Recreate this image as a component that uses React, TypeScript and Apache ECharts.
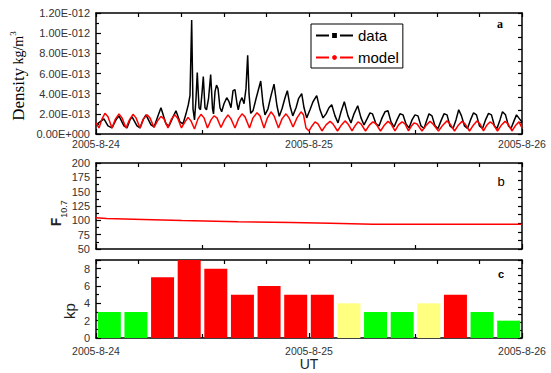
import React, { useEffect, useRef } from "react";
import * as echarts from "echarts";

// ---- Data (hours since 2005-8-24 00:00 UT) ----
const dayLabels = ["2005-8-24", "2005-8-25", "2005-8-26"];

// Measured density (units of 1e-13 kg/m^3)
const densityHours = [
  0, 0.45, 0.9, 1.35, 1.8, 2.25, 2.59, 3.15, 3.49, 3.83, 4.06, 4.62, 4.96, 5.3, 5.63, 6.2, 6.54, 6.99, 7.32, 7.89,
  8.23, 8.68, 9.01, 9.46, 9.8, 10.14, 10.4, 10.59, 10.78, 10.93, 11.1, 11.27, 11.41, 11.61, 11.77, 11.94, 12.09,
  12.28, 12.45, 12.68, 12.92, 13.13, 13.24, 13.41, 13.58, 13.75, 13.97, 14.16, 14.42, 14.73, 14.99, 15.21, 15.44,
  15.66, 15.89, 16.03, 16.23, 16.45, 16.68, 16.9, 17.09, 17.24, 17.43, 17.69, 18.03, 18.56, 18.82, 19.04, 19.38,
  19.72, 20.06, 20.39, 20.65, 20.96, 21.3, 21.56, 21.86, 22.17, 22.54, 22.82, 23.18, 23.44, 23.74, 24.11, 24.45,
  24.87, 25.24, 25.58, 25.92, 26.25, 26.56, 26.93, 27.27, 27.61, 27.98, 28.39, 28.73, 29.07, 29.49, 29.86, 30.2,
  30.54, 30.87, 31.15, 31.55, 31.89, 32.23, 32.56, 32.9, 33.24, 33.58, 33.92, 34.25, 34.59, 34.93, 35.27, 35.61,
  35.94, 36.28, 36.62, 36.96, 37.24, 37.52, 37.86, 38.2, 38.54, 38.87, 39.21, 39.55, 39.89, 40.23, 40.56, 40.87,
  41.18, 41.52, 41.86, 42.2, 42.54, 42.87, 43.21, 43.55, 43.89, 44.23, 44.56, 44.9, 45.18, 45.52, 45.8, 46.14,
  46.48, 46.76, 47.1, 47.38, 47.72, 48,
];
const densityValues = [
  0.9, 1.2, 1.5, 0.8, 0.6, 1.4, 1.8, 0.8, 0.6, 1.4, 1.7, 0.8, 0.6, 1.4, 1.9, 0.9, 0.7, 1.8, 2.6, 1.0,
  0.8, 1.7, 2.3, 1.2, 1.0, 2.0, 2.9, 3.8, 11.3, 2.5, 1.4, 3.5, 6.1, 2.6, 2.4, 4.0, 5.7,
  2.6, 2.4, 3.5, 5.9, 2.5, 2.0, 4.2, 4.85, 4.5, 2.6, 2.2, 3.0, 3.6, 3.2, 2.6, 4.3,
  4.4, 3.0, 2.4, 3.2, 3.6, 3.0, 4.5, 7.8, 4.0, 2.05, 2.3, 3.5, 5.25, 3.0, 1.9, 2.5,
  3.8, 4.95, 2.8, 1.75, 2.5, 3.6, 4.3, 2.8, 1.8, 2.6, 3.5, 4.0, 2.6, 1.6, 2.4, 3.2,
  3.8, 2.4, 1.6, 2.0, 2.6, 2.9, 1.8, 1.1, 2.2, 3.2, 1.8, 1.1, 2.0, 2.8, 1.6, 0.9,
  1.5, 2.1, 2.0, 1.0, 0.8, 1.6, 2.2, 2.3, 1.2, 0.7, 1.4, 2.0, 1.9, 1.0, 0.6, 1.4,
  1.9, 1.8, 0.8, 0.55, 1.3, 2.0, 1.8, 0.8, 0.55, 1.3, 2.0, 1.9, 0.8, 0.55, 1.4, 2.4,
  1.8, 0.8, 0.55, 1.4, 2.1, 1.9, 0.8, 0.55, 1.4, 2.05, 1.9, 0.8, 0.55, 1.4, 2.2, 1.9,
  0.8, 0.55, 1.3, 1.9, 1.5, 1.2,
];

// Model density (units of 1e-13 kg/m^3)
const modelHours = [
  0, 0.34, 0.68, 1.01, 1.35, 1.8, 2.2, 2.59, 2.93, 3.38, 3.77, 4.17, 4.51, 4.96, 5.35, 5.75, 6.08, 6.54, 6.93,
  7.32, 7.66, 8.11, 8.51, 8.9, 9.24, 9.63, 10.03, 10.37, 10.7, 11.1, 11.49, 11.83, 12.17, 12.56, 12.96, 13.3,
  13.63, 14.08, 14.48, 14.87, 15.21, 15.66, 16.06, 16.45, 16.79, 17.3, 17.69, 18.14, 18.48, 18.93, 19.32, 19.72,
  20.06, 20.56, 20.96, 21.41, 21.75, 22.2, 22.65, 23.1, 23.38, 23.66, 24, 24.34, 24.68, 25.01, 25.46, 25.92,
  26.37, 26.7, 27.21, 27.66, 28.06, 28.39, 28.85, 29.18, 29.52, 29.86, 30.37, 30.82, 31.21, 31.55, 32.06, 32.51,
  32.9, 33.24, 33.69, 34.09, 34.48, 34.82, 35.21, 35.55, 35.83, 36.17, 36.73, 37.24, 37.63, 37.97, 38.59, 39.1,
  39.55, 39.89, 40.4, 40.85, 41.24, 41.58, 42.09, 42.54, 42.93, 43.27, 43.66, 44.06, 44.39, 44.73, 45.24, 45.69,
  46.09, 46.42, 46.87, 47.32, 47.66, 48,
];
const modelValues = [
  1.1, 0.6, 1.5, 2.05, 1.7, 0.6, 1.5, 2.0, 1.6, 0.6, 1.4, 1.95, 1.6, 0.6, 1.5, 1.9, 1.6, 0.65, 1.3,
  1.75, 1.5, 0.6, 1.5, 1.9, 1.5, 0.6, 1.2, 1.65, 1.3, 0.5, 1.5, 1.95, 1.6, 0.6, 1.4, 1.8,
  1.6, 0.65, 1.4, 1.9, 1.5, 0.6, 1.5, 2.0, 1.7, 0.6, 1.6, 2.1, 1.8, 0.6, 1.6, 2.2,
  1.8, 0.6, 1.5, 2.0, 1.6, 0.7, 1.6, 2.2, 1.9, 0.6, 0.3, 0.8, 1.2, 1.0, 0.3, 0.9,
  1.25, 1.0, 0.3, 0.9, 1.3, 1.0, 0.3, 0.8, 1.2, 1.0, 0.3, 0.9, 1.2, 1.0, 0.3, 0.9,
  1.25, 1.0, 0.3, 0.9, 1.2, 1.0, 0.3, 0.8, 1.1, 1.0, 0.3, 0.9, 1.25, 1.0, 0.3, 0.9,
  1.3, 1.0, 0.3, 0.9, 1.25, 1.0, 0.3, 0.9, 1.3, 1.0, 0.3, 0.9, 1.2, 1.0, 0.3, 0.9,
  1.25, 1.0, 0.3, 0.9, 1.2, 0.6,
];

// F10.7 index
const f107Hours = [0, 1.2, 5.3, 9.7, 16, 22, 26.4, 31.2, 48];
const f107Values = [104.7, 103, 101.5, 99.5, 97.5, 96.2, 95, 93, 93];

// 3-hourly Kp
const kpHours = [1.5, 4.5, 7.5, 10.5, 13.5, 16.5, 19.5, 22.5, 25.5, 28.5, 31.5, 34.5, 37.5, 40.5, 43.5, 46.5];
const kpValues = [3, 3, 7, 9, 8, 5, 6, 5, 5, 4, 3, 3, 4, 5, 3, 2];

const FONT = 'Arial, "Liberation Sans", sans-serif';
const SERIF = '"Times New Roman", "Liberation Serif", serif';
const LABEL_COLOR = "#333";

function zip(xs: number[], ys: number[]) {
  return xs.map((x, i) => [x, ys[i]]);
}

function sciLabel(v: number): string {
  if (v === 0) return "0.00E+000";
  const e = Math.floor(Math.log10(v) + 1e-9);
  const mant = v / Math.pow(10, e);
  const exp = e - 13;
  return mant.toFixed(2) + "E" + (exp < 0 ? "-" : "+") + String(Math.abs(exp)).padStart(3, "0");
}

function kpColor(v: number) {
  if (v >= 5) return "#ff0000";
  if (v === 4) return "#ffff80";
  return "#00ff00";
}

const axisLineStyle = { show: true, lineStyle: { color: "#000", width: 1.5 } };

function bottomX(grid: number, showLabels: boolean, margin: number, name?: string) {
  return {
    type: "value",
    gridIndex: grid,
    min: 0,
    max: 48,
    interval: 24,
    position: "bottom",
    axisLine: { ...axisLineStyle, onZero: false },
    axisTick: { show: true, inside: true, length: 5, lineStyle: { color: "#000", width: 1.2 } },
    minorTick: { show: true, splitNumber: 2, length: 4, lineStyle: { color: "#000", width: 1.2 } },
    splitLine: { show: false },
    axisLabel: {
      show: showLabels,
      margin,
      color: LABEL_COLOR,
      fontFamily: FONT,
      fontSize: 10.5,
      formatter: (v: number) => dayLabels[Math.round(v / 24)] ?? "",
    },
    name: name ?? "",
    nameLocation: "middle",
    nameGap: 19,
    nameTextStyle: { fontFamily: FONT, fontSize: 14, color: "#222" },
  };
}

function topX(grid: number) {
  return {
    type: "value",
    gridIndex: grid,
    min: 0,
    max: 10,
    interval: 1,
    position: "top",
    axisLine: { ...axisLineStyle, onZero: false },
    axisTick: { show: true, inside: true, length: 4, lineStyle: { color: "#000", width: 1.2 } },
    splitLine: { show: false },
    axisLabel: { show: false },
  };
}

function leftY(grid: number, min: number, max: number, interval: number, formatter?: (v: number) => string) {
  return {
    type: "value",
    gridIndex: grid,
    min,
    max,
    interval,
    position: "left",
    axisLine: { ...axisLineStyle, onZero: false },
    axisTick: { show: true, inside: true, length: 5, lineStyle: { color: "#000", width: 1.2 } },
    minorTick: { show: true, splitNumber: 2, length: 3, lineStyle: { color: "#000", width: 1.2 } },
    splitLine: { show: false },
    axisLabel: {
      margin: 6,
      color: LABEL_COLOR,
      fontFamily: FONT,
      fontSize: 11,
      showMaxLabel: max % interval === 0,
      formatter: formatter ?? ((v: number) => String(v)),
    },
  };
}

function rightY(grid: number) {
  return {
    type: "value",
    gridIndex: grid,
    min: 0,
    max: 10,
    interval: 1,
    position: "right",
    axisLine: { ...axisLineStyle, onZero: false },
    axisTick: { show: true, inside: true, length: 4, lineStyle: { color: "#000", width: 1.2 } },
    splitLine: { show: false },
    axisLabel: { show: false },
  };
}

export default function App() {
  const ref = useRef<HTMLDivElement>(null);

  useEffect(() => {
    if (!ref.current) return;
    const chart = echarts.init(ref.current, undefined, { renderer: "svg" });
    const option: any = {
      animation: false,
      backgroundColor: "#fff",
      grid: [
        { left: 96, top: 13, width: 426, height: 121 },
        { left: 96, top: 163, width: 426, height: 86 },
        { left: 96, top: 260, width: 426, height: 78 },
      ],
      xAxis: [
        bottomX(0, true, 4),
        topX(0),
        bottomX(1, false, 4),
        topX(1),
        bottomX(2, true, 7, "UT"),
        topX(2),
      ],
      yAxis: [
        leftY(0, 0, 12, 2, sciLabel),
        rightY(0),
        leftY(1, 50, 200, 25),
        rightY(1),
        leftY(2, 0, 9, 2),
        rightY(2),
      ],
      legend: {
        data: ["data", "model"],
        orient: "vertical",
        left: 311,
        top: 24,
        borderColor: "#000",
        borderWidth: 1,
        padding: [4, 4, 3, 4],
        itemWidth: 37,
        itemHeight: 6,
        itemGap: 7,
        lineStyle: { type: [13, 11] },
        textStyle: { fontFamily: FONT, fontSize: 15, color: "#000", padding: [0, 0, 0, 0] },
      },
      series: [
        {
          name: "data",
          type: "line",
          xAxisIndex: 0,
          yAxisIndex: 0,
          data: zip(densityHours, densityValues),
          symbol: "rect",
          symbolSize: 5,
          showSymbol: false,
          lineStyle: { color: "#000", width: 1.5 },
          itemStyle: { color: "#000" },
        },
        {
          name: "model",
          type: "line",
          xAxisIndex: 0,
          yAxisIndex: 0,
          data: zip(modelHours, modelValues),
          symbol: "circle",
          symbolSize: 5,
          showSymbol: false,
          lineStyle: { color: "#ff0000", width: 1.5 },
          itemStyle: { color: "#ff0000" },
        },
        {
          name: "F10.7",
          type: "line",
          xAxisIndex: 2,
          yAxisIndex: 2,
          data: zip(f107Hours, f107Values),
          showSymbol: false,
          lineStyle: { color: "#ff0000", width: 1.5 },
          itemStyle: { color: "#ff0000" },
        },
        {
          name: "kp",
          type: "bar",
          xAxisIndex: 4,
          yAxisIndex: 4,
          barWidth: 23,
          data: kpHours.map((h, i) => ({
            value: [h, kpValues[i]],
            itemStyle: { color: kpColor(kpValues[i]) },
          })),
        },
      ],
      graphic: [
        {
          type: "text",
          x: 18,
          y: 76,
          rotation: Math.PI / 2,
          style: {
            text: "{a|Density} {b|kg/m}{c|3}",
            align: "center",
            verticalAlign: "middle",
            fill: "#000",
            rich: {
              a: { fontFamily: SERIF, fontSize: 17, fill: "#000", lineHeight: 20 },
              b: { fontFamily: SERIF, fontSize: 14, fill: "#000", lineHeight: 20 },
              c: { fontFamily: SERIF, fontSize: 9, fill: "#000", verticalAlign: "top", lineHeight: 12 },
            },
          },
        },
        {
          type: "text",
          x: 56,
          y: 222,
          rotation: Math.PI / 2,
          style: { text: "F", fontFamily: FONT, fontSize: 14, fontWeight: "bold", fill: "#222", align: "center", verticalAlign: "middle" },
        },
        {
          type: "text",
          x: 64,
          y: 209,
          rotation: Math.PI / 2,
          style: { text: "10.7", fontFamily: FONT, fontSize: 9, fill: "#222", align: "center", verticalAlign: "middle" },
        },
        {
          type: "text",
          x: 69,
          y: 311,
          rotation: Math.PI / 2,
          style: { text: "kp", fontFamily: FONT, fontSize: 15, fill: "#222", align: "center", verticalAlign: "middle" },
        },
        {
          type: "text",
          x: 500,
          y: 24,
          style: { text: "a", fontFamily: SERIF, fontSize: 12, fontWeight: "bold", fill: "#000", align: "center", verticalAlign: "middle" },
        },
        {
          type: "text",
          x: 501,
          y: 181,
          style: { text: "b", fontFamily: FONT, fontSize: 13, fill: "#000", align: "center", verticalAlign: "middle" },
        },
        {
          type: "text",
          x: 501,
          y: 274,
          style: { text: "c", fontFamily: FONT, fontSize: 11, fontWeight: "bold", fill: "#000", align: "center", verticalAlign: "middle" },
        },
      ],
    };
    chart.setOption(option);
    return () => chart.dispose();
  }, []);

  return (
    <div
      ref={ref}
      style={{ position: "absolute", left: 0, top: 0, width: 551, height: 373, background: "#fff" }}
    />
  );
}
